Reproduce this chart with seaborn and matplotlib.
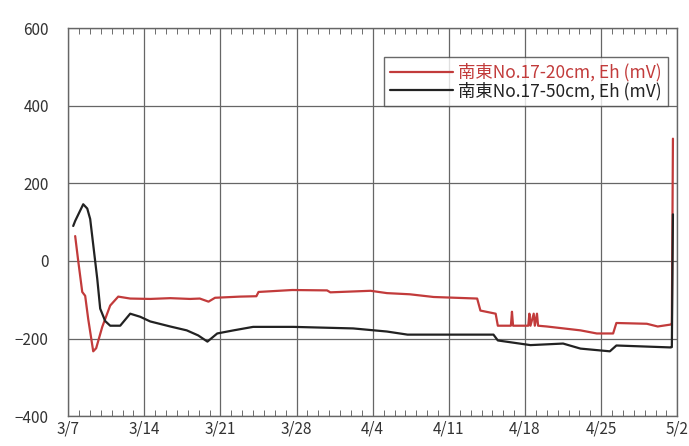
import pandas as pd
import numpy as np
from matplotlib import pyplot as plt
from matplotlib.ticker import MultipleLocator
import seaborn as sns

# days counted from 3/7
days_20 = [0.64, 0.92, 1.29, 1.56, 1.84, 2.30, 2.57, 3.13, 3.86, 4.60, 5.70, 7.54, 9.38,
           11.2, 12.1, 12.9, 13.5, 15.8, 17.3, 17.5, 20.6, 23.8, 24.1, 27.8, 29.3, 31.4,
           33.6, 37.6, 37.9, 39.3, 39.5, 40.7, 40.8, 40.9, 42.3, 42.4, 42.5, 42.8, 42.9,
           43.1, 43.2, 44.0, 47.1, 48.6, 50.1, 50.4, 53.2, 54.2, 55.4, 55.5, 55.6]
eh_20 = [64, 0, -80, -90, -150, -233, -225, -170, -115, -92, -97, -98, -96,
         -98, -97, -105, -95, -92, -91, -80, -75, -76, -81, -77, -83, -86,
         -93, -97, -128, -136, -167, -167, -131, -167, -167, -136, -167, -136, -167,
         -136, -167, -169, -179, -187, -187, -160, -162, -169, -164, -160, 315]

days_50 = [0.46, 0.64, 1.38, 1.75, 2.02, 2.67, 2.94, 3.40, 3.86, 4.78, 5.70, 6.62, 7.54,
           9.38, 10.9, 11.95, 12.8, 13.7, 15.2, 17.0, 20.7, 26.2, 29.3, 31.2, 36.0, 39.1,
           39.5, 42.5, 45.5, 47.1, 49.8, 50.4, 55.4, 55.5, 55.6]
eh_50 = [90, 103, 146, 135, 108, -46, -123, -155, -167, -167, -136, -144, -156,
         -169, -179, -192, -208, -187, -179, -170, -170, -174, -182, -190, -190, -190,
         -205, -217, -213, -226, -233, -218, -223, -222, 120]

tick_days = [0, 7, 14, 21, 28, 35, 42, 49, 56]
tick_labels = ["3/7", "3/14", "3/21", "3/28", "4/4", "4/11", "4/18", "4/25", "5/2"]

label_20 = "南東No.17-20cm, Eh (mV)"
label_50 = "南東No.17-50cm, Eh (mV)"

df = pd.concat([
    pd.DataFrame({"day": days_20, "eh": eh_20, "series": label_20, "order": np.arange(len(days_20))}),
    pd.DataFrame({"day": days_50, "eh": eh_50, "series": label_50, "order": np.arange(len(days_50))}),
])

sns.set_style("white")
plt.rcParams["font.family"] = ["Noto Sans CJK JP", "DejaVu Sans"]

fig = plt.figure(figsize=(6.89, 4.46), dpi=100)
ax = fig.add_axes([0.099, 0.067, 0.884, 0.870])

sns.lineplot(data=df, x="day", y="eh", hue="series", units="series", estimator=None,
             sort=False, palette={label_20: "#c23b3b", label_50: "#222222"},
             linewidth=1.6, ax=ax)

ax.set_xlim(0, 56)
ax.set_ylim(-400, 600)
ax.set_xticks(tick_days)
ax.set_xticklabels(tick_labels)
ax.set_yticks([-400, -200, 0, 200, 400, 600])
ax.xaxis.set_minor_locator(MultipleLocator(1))
ax.tick_params(axis="x", which="minor", direction="in", top=True, bottom=True, length=4,
               color="#555555")
ax.tick_params(axis="x", which="major", direction="in", length=0, pad=3)
ax.tick_params(axis="y", length=0, pad=14)
ax.tick_params(labelsize=11, labelcolor="#333333")
ax.grid(True, which="major", color="#666666", linewidth=0.9)
for s in ax.spines.values():
    s.set_color("#666666")
    s.set_linewidth(1.0)
ax.set_xlabel("")
ax.set_ylabel("")

leg = ax.legend(loc="upper right", bbox_to_anchor=(0.984, 0.925), fontsize=12.5,
                frameon=True, fancybox=False, edgecolor="#444444", handlelength=3.6,
                handletextpad=0.3, labelspacing=0.0, borderpad=0.35, borderaxespad=0,
                labelcolor="linecolor")
leg.get_frame().set_linewidth(1.0)

plt.savefig("out.png", dpi=100)
